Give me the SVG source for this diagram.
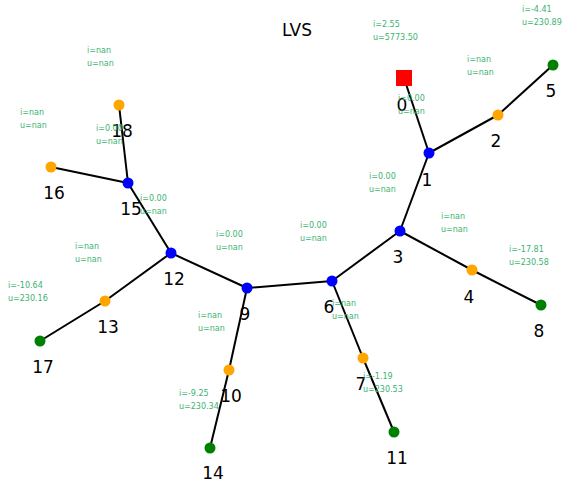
<svg xmlns="http://www.w3.org/2000/svg" width="568" height="485" viewBox="0 0 568 485">
<style>
.e{stroke:#000;stroke-width:2;fill:none}
.b{fill:#0000ff}.o{fill:#ffa500}.g{fill:#008000}.r{fill:#ff0000}
.l{font-family:"DejaVu Sans",sans-serif;font-size:17px;fill:#000;text-anchor:middle}
.a{font-family:"DejaVu Sans",sans-serif;font-size:8px;fill:#3cb371}
.t{font-family:"DejaVu Sans",sans-serif;font-size:17px;fill:#000;text-anchor:middle}
</style>
<rect width="568" height="485" fill="#fff"/>
<text class="t" x="297" y="36">LVS</text>
<g id="edges">
<line class="e" x1="404" y1="78" x2="429" y2="153"/>
<line class="e" x1="429" y1="153" x2="498" y2="115"/>
<line class="e" x1="498" y1="115" x2="553" y2="65"/>
<line class="e" x1="429" y1="153" x2="400" y2="231"/>
<line class="e" x1="400" y1="231" x2="472" y2="270"/>
<line class="e" x1="472" y1="270" x2="541" y2="305"/>
<line class="e" x1="400" y1="231" x2="332" y2="281"/>
<line class="e" x1="332" y1="281" x2="363" y2="358"/>
<line class="e" x1="363" y1="358" x2="394" y2="432"/>
<line class="e" x1="332" y1="281" x2="247" y2="288"/>
<line class="e" x1="247" y1="288" x2="229" y2="370"/>
<line class="e" x1="229" y1="370" x2="210" y2="448"/>
<line class="e" x1="247" y1="288" x2="171" y2="253"/>
<line class="e" x1="171" y1="253" x2="105" y2="301"/>
<line class="e" x1="105" y1="301" x2="40" y2="341"/>
<line class="e" x1="171" y1="253" x2="128" y2="183"/>
<line class="e" x1="128" y1="183" x2="51" y2="167"/>
<line class="e" x1="128" y1="183" x2="119" y2="105"/>
</g>
<g id="n0"><rect class="r" x="396" y="70" width="16" height="16"/><text class="l" x="402" y="111">0</text></g>
<g id="n1"><circle class="b" cx="429" cy="153" r="5.5"/><text class="l" x="427" y="186">1</text></g>
<g id="n2"><circle class="o" cx="498" cy="115" r="5.5"/><text class="l" x="496" y="147">2</text></g>
<g id="n3"><circle class="b" cx="400" cy="231" r="5.5"/><text class="l" x="398" y="263">3</text></g>
<g id="n4"><circle class="o" cx="472" cy="270" r="5.5"/><text class="l" x="469" y="303">4</text></g>
<g id="n5"><circle class="g" cx="553" cy="65" r="5.5"/><text class="l" x="551" y="97">5</text></g>
<g id="n6"><circle class="b" cx="332" cy="281" r="5.5"/><text class="l" x="329" y="313">6</text></g>
<g id="n7"><circle class="o" cx="363" cy="358" r="5.5"/><text class="l" x="361" y="390">7</text></g>
<g id="n8"><circle class="g" cx="541" cy="305" r="5.5"/><text class="l" x="539" y="337">8</text></g>
<g id="n9"><circle class="b" cx="247" cy="288" r="5.5"/><text class="l" x="245" y="320">9</text></g>
<g id="n10"><circle class="o" cx="229" cy="370" r="5.5"/><text class="l" x="231" y="402">10</text></g>
<g id="n11"><circle class="g" cx="394" cy="432" r="5.5"/><text class="l" x="397" y="464">11</text></g>
<g id="n12"><circle class="b" cx="171" cy="253" r="5.5"/><text class="l" x="174" y="285">12</text></g>
<g id="n13"><circle class="o" cx="105" cy="301" r="5.5"/><text class="l" x="108" y="333">13</text></g>
<g id="n14"><circle class="g" cx="210" cy="448" r="5.5"/><text class="l" x="213" y="479">14</text></g>
<g id="n15"><circle class="b" cx="128" cy="183" r="5.5"/><text class="l" x="131" y="215">15</text></g>
<g id="n16"><circle class="o" cx="51" cy="167" r="5.5"/><text class="l" x="54" y="199">16</text></g>
<g id="n17"><circle class="g" cx="40" cy="341" r="5.5"/><text class="l" x="43" y="373">17</text></g>
<g id="n18"><circle class="o" cx="119" cy="105" r="5.5"/><text class="l" x="122" y="137">18</text></g>
<g id="annotations">
<text class="a" x="373" y="27">i=2.55</text><text class="a" x="373" y="40">u=5773.50</text>
<text class="a" x="522" y="12">i=-4.41</text><text class="a" x="522" y="25">u=230.89</text>
<text class="a" x="467" y="62">i=nan</text><text class="a" x="467" y="75">u=nan</text>
<text class="a" x="398" y="101">i=0.00</text><text class="a" x="398" y="114">u=nan</text>
<text class="a" x="87" y="53">i=nan</text><text class="a" x="87" y="66">u=nan</text>
<text class="a" x="20" y="115">i=nan</text><text class="a" x="20" y="128">u=nan</text>
<text class="a" x="96" y="131">i=0.00</text><text class="a" x="96" y="144">u=nan</text>
<text class="a" x="140" y="201">i=0.00</text><text class="a" x="140" y="214">u=nan</text>
<text class="a" x="216" y="237">i=0.00</text><text class="a" x="216" y="250">u=nan</text>
<text class="a" x="75" y="249">i=nan</text><text class="a" x="75" y="262">u=nan</text>
<text class="a" x="8" y="288">i=-10.64</text><text class="a" x="8" y="301">u=230.16</text>
<text class="a" x="369" y="179">i=0.00</text><text class="a" x="369" y="192">u=nan</text>
<text class="a" x="300" y="228">i=0.00</text><text class="a" x="300" y="241">u=nan</text>
<text class="a" x="441" y="219">i=nan</text><text class="a" x="441" y="232">u=nan</text>
<text class="a" x="509" y="252">i=-17.81</text><text class="a" x="509" y="265">u=230.58</text>
<text class="a" x="332" y="306">i=nan</text><text class="a" x="332" y="319">u=nan</text>
<text class="a" x="198" y="318">i=nan</text><text class="a" x="198" y="331">u=nan</text>
<text class="a" x="363" y="379">i=-1.19</text><text class="a" x="363" y="392">u=230.53</text>
<text class="a" x="179" y="396">i=-9.25</text><text class="a" x="179" y="409">u=230.34</text>
</g>
</svg>
